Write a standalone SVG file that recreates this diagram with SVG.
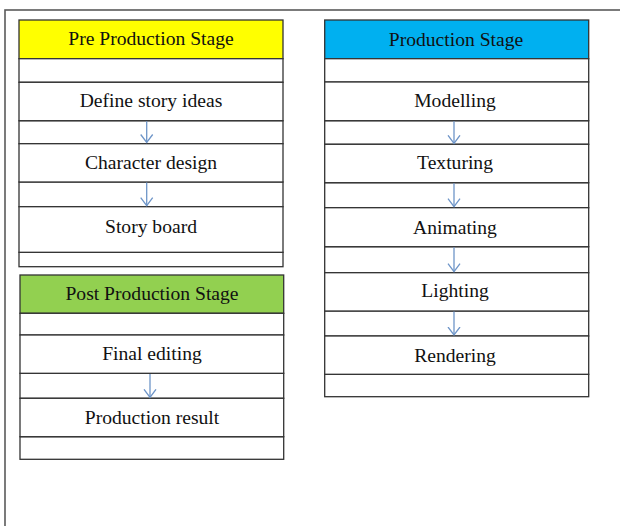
<svg xmlns="http://www.w3.org/2000/svg" width="620" height="526" viewBox="0 0 620 526">
<style>
.frame{fill:#fff;stroke:#5a5a5a;stroke-width:1.6}
.cell{fill:#fff;stroke:#333;stroke-width:1.3}
.t{font-family:"Liberation Serif","Times New Roman",serif;font-size:19.6px;fill:#111;text-anchor:middle}
.arr{stroke:#6e95c8;stroke-width:1.3;fill:none}
</style>
<defs>
<marker id="ah" markerWidth="10" markerHeight="14" refX="8.5" refY="6.5" orient="auto" markerUnits="userSpaceOnUse" viewBox="0 0 10 13">
<polyline points="0.5,0.5 8.5,6.5 0.5,12.5" fill="none" stroke="#6e95c8" stroke-width="1.3"/>
</marker>
</defs>
<rect width="620" height="526" fill="#fff"/>
<rect class="frame" x="5" y="10" width="640" height="600"/>

<g id="pre-stage">
<rect class="cell" x="19" y="20" width="264" height="38.7" style="fill:#ffff00"/>
<text class="t" x="151" y="44.5">Pre Production Stage</text>
<rect class="cell" x="19" y="58.7" width="264" height="23.6"/>
<rect class="cell" x="19" y="120.7" width="264" height="23"/>
<rect class="cell" x="19" y="182" width="264" height="24.7"/>
<rect class="cell" x="19" y="252.3" width="264" height="14.4"/>
</g>
<g id="define-story-ideas">
<rect class="cell" x="19" y="82.3" width="264" height="38.4"/>
<text class="t" x="151" y="106.5">Define story ideas</text>
</g>
<g id="character-design">
<rect class="cell" x="19" y="143.7" width="264" height="38.3"/>
<text class="t" x="151" y="168.5">Character design</text>
</g>
<g id="story-board">
<rect class="cell" x="19" y="206.7" width="264" height="45.6"/>
<text class="t" x="151" y="232.5">Story board</text>
</g>

<g id="post-stage">
<rect class="cell" x="20" y="275" width="263.7" height="38.3" style="fill:#92d050"/>
<text class="t" x="152" y="299.5">Post Production Stage</text>
<rect class="cell" x="20" y="313.3" width="263.7" height="21.7"/>
<rect class="cell" x="20" y="373.3" width="263.7" height="25"/>
<rect class="cell" x="20" y="436.7" width="263.7" height="22.6"/>
</g>
<g id="final-editing">
<rect class="cell" x="20" y="335" width="263.7" height="38.3"/>
<text class="t" x="152" y="359.5">Final editing</text>
</g>
<g id="production-result">
<rect class="cell" x="20" y="398.3" width="263.7" height="38.4"/>
<text class="t" x="152" y="423.5">Production result</text>
</g>

<g id="production-stage">
<rect class="cell" x="324.7" y="20" width="264" height="38.7" style="fill:#00b0f0"/>
<text class="t" x="456" y="45.5">Production Stage</text>
<rect class="cell" x="324.7" y="58.7" width="264" height="23.3"/>
<rect class="cell" x="324.7" y="120.7" width="264" height="23.6"/>
<rect class="cell" x="324.7" y="182.7" width="264" height="25"/>
<rect class="cell" x="324.7" y="246.7" width="264" height="26"/>
<rect class="cell" x="324.7" y="311" width="264" height="25"/>
<rect class="cell" x="324.7" y="374.3" width="264" height="22.4"/>
</g>
<g id="modelling">
<rect class="cell" x="324.7" y="82" width="264" height="38.7"/>
<text class="t" x="455" y="106.5">Modelling</text>
</g>
<g id="texturing">
<rect class="cell" x="324.7" y="144.3" width="264" height="38.4"/>
<text class="t" x="455" y="168.5">Texturing</text>
</g>
<g id="animating">
<rect class="cell" x="324.7" y="207.7" width="264" height="39"/>
<text class="t" x="455" y="233.5">Animating</text>
</g>
<g id="lighting">
<rect class="cell" x="324.7" y="272.7" width="264" height="38.3"/>
<text class="t" x="455" y="297">Lighting</text>
</g>
<g id="rendering">
<rect class="cell" x="324.7" y="336" width="264" height="38.3"/>
<text class="t" x="455" y="362">Rendering</text>
</g>

<g id="connectors">
<line class="arr" x1="146.7" y1="121.3" x2="146.7" y2="142.5" marker-end="url(#ah)"/>
<line class="arr" x1="146.7" y1="182.6" x2="146.7" y2="205.7" marker-end="url(#ah)"/>
<line class="arr" x1="150" y1="373.9" x2="150" y2="397.3" marker-end="url(#ah)"/>
<line class="arr" x1="454" y1="121.3" x2="454" y2="143.3" marker-end="url(#ah)"/>
<line class="arr" x1="454" y1="183.3" x2="454" y2="206.7" marker-end="url(#ah)"/>
<line class="arr" x1="454" y1="247.3" x2="454" y2="271.7" marker-end="url(#ah)"/>
<line class="arr" x1="454" y1="311.6" x2="454" y2="335" marker-end="url(#ah)"/>
</g>
</svg>
